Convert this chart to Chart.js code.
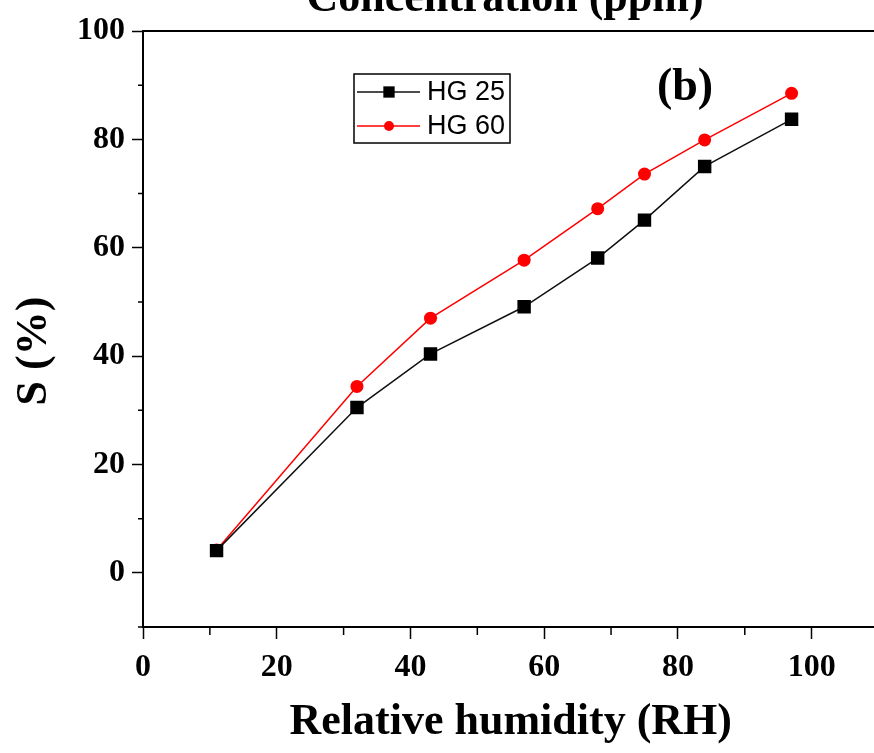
<!DOCTYPE html>
<html>
<head>
<meta charset="utf-8">
<script src="https://cdn.jsdelivr.net/npm/chart.js@4.4.0/dist/chart.umd.min.js"></script>
<style>
  html, body { margin: 0; padding: 0; background: #fff; overflow: hidden; }
  #wrap { width: 888px; height: 753px; }
</style>
</head>
<body>
<div id="wrap"><canvas id="humidityChart" width="888" height="753"></canvas></div>
<script>
// data
const rh = [11, 32, 43, 57, 68, 75, 84, 97];
const hg25 = [4.1, 30.5, 40.4, 49.1, 58.1, 65.1, 75.0, 83.7];
const hg60 = [4.2, 34.4, 47.0, 57.7, 67.2, 73.6, 79.9, 88.5];
const seriesNames = ['HG 25', 'HG 60'];
const xTicks = [0, 20, 40, 60, 80, 100];
const yTicks = [0, 20, 40, 60, 80, 100];
const xMinor = [10, 30, 50, 70, 90];
const yMinor = [-10, 10, 30, 50, 70, 90];

const serif = '"Liberation Serif", "Times New Roman", serif';

// frame, minor ticks, titles, panel label and boxed legend
const extrasPlugin = {
  id: 'extras',
  afterDraw(chart) {
    const { ctx, chartArea: a, scales } = chart;
    const x = scales.x, y = scales.y;
    ctx.save();
    ctx.strokeStyle = '#000';
    ctx.lineWidth = 2;
    ctx.strokeRect(a.left, a.top, a.right - a.left, a.bottom - a.top);

    ctx.lineWidth = 1.5;
    ctx.beginPath();
    xMinor.forEach(v => {
      const px = x.getPixelForValue(v);
      ctx.moveTo(px, a.bottom);
      ctx.lineTo(px, a.bottom + 8);
    });
    yMinor.forEach(v => {
      const py = y.getPixelForValue(v);
      ctx.moveTo(a.left, py);
      ctx.lineTo(a.left - 5, py);
    });
    ctx.stroke();

    ctx.fillStyle = '#000';
    ctx.textAlign = 'center';
    ctx.textBaseline = 'alphabetic';
    ctx.font = 'bold 44px ' + serif;
    ctx.fillText('Concentration (ppm)', 505, 11);
    ctx.font = 'bold 46px ' + serif;
    ctx.fillText('(b)', 685, 100);

    // y axis title, sits a bit below the middle of the axis
    ctx.save();
    ctx.translate(35, 351);
    ctx.rotate(-Math.PI / 2);
    ctx.textBaseline = 'middle';
    ctx.font = 'bold 44px ' + serif;
    ctx.fillText('S (%)', 0, 0);
    ctx.restore();

    // legend
    ctx.lineWidth = 1.5;
    ctx.strokeStyle = '#000';
    ctx.strokeRect(354, 74, 156, 69);
    chart.data.datasets.forEach((ds, i) => {
      const ly = 92 + i * 34;
      ctx.strokeStyle = ds.borderColor;
      ctx.lineWidth = ds.borderWidth;
      ctx.beginPath();
      ctx.moveTo(357, ly);
      ctx.lineTo(420, ly);
      ctx.stroke();
      ctx.fillStyle = ds.pointBackgroundColor;
      Chart.helpers.drawPoint(ctx, { pointStyle: ds.pointStyle, radius: ds.pointRadius - 1.5, rotation: 0, borderWidth: 0 }, 389, ly);
      ctx.fillStyle = '#000';
      ctx.font = '27px "Liberation Sans", Arial, sans-serif';
      ctx.textAlign = 'left';
      ctx.textBaseline = 'middle';
      ctx.fillText(ds.label, 427, ly + 1);
    });
    ctx.restore();
  }
};

const ctx = document.getElementById('humidityChart').getContext('2d');
const humidityChart = new Chart(ctx, {
  type: 'line',
  data: {
    labels: rh,
    datasets: [
      {
        label: seriesNames[0],
        data: rh.map((v, i) => ({ x: v, y: hg25[i] })),
        borderColor: '#111',
        borderWidth: 1.5,
        pointStyle: 'rect',
        pointRadius: 9.5,
        pointBackgroundColor: '#000',
        pointBorderWidth: 0,
        tension: 0
      },
      {
        label: seriesNames[1],
        data: rh.map((v, i) => ({ x: v, y: hg60[i] })),
        borderColor: '#ff0000',
        borderWidth: 1.5,
        pointStyle: 'circle',
        pointRadius: 6.5,
        pointBackgroundColor: '#ff0000',
        pointBorderWidth: 0,
        tension: 0
      }
    ]
  },
  options: {
    responsive: false,
    animation: false,
    layout: { padding: { top: 31, right: 2, left: 0, bottom: 0 } },
    plugins: {
      legend: { display: false },
      tooltip: { enabled: false }
    },
    scales: {
      x: {
        type: 'linear',
        min: 0,
        max: 110,
        afterBuildTicks: s => { s.ticks = xTicks.map(v => ({ value: v })); },
        afterFit: s => { s.height = 126; s.paddingLeft = 0; s.paddingRight = 0; },
        grid: { drawOnChartArea: false, drawTicks: true, tickLength: 12, tickColor: '#000', tickWidth: 1.5 },
        border: { display: true, color: '#000', width: 2 },
        ticks: { color: '#000', padding: 10, maxRotation: 0, font: { family: serif, size: 32, weight: 'bold' } },
        title: { display: true, text: 'Relative humidity (RH)', color: '#000', padding: { top: 0, bottom: 4 }, font: { family: serif, size: 44, weight: 'bold' } }
      },
      y: {
        min: -10,
        max: 100,
        afterBuildTicks: s => { s.ticks = yTicks.map(v => ({ value: v })); },
        afterFit: s => { s.width = 143; s.paddingTop = 0; s.paddingBottom = 0; },
        grid: { drawOnChartArea: false, drawTicks: true, tickLength: 11, tickColor: '#000', tickWidth: 1.5 },
        border: { display: true, color: '#000', width: 2 },
        ticks: { color: '#000', padding: 7, font: { family: serif, size: 32, weight: 'bold' } }
      }
    }
  },
  plugins: [extrasPlugin]
});
</script>
</body>
</html>
